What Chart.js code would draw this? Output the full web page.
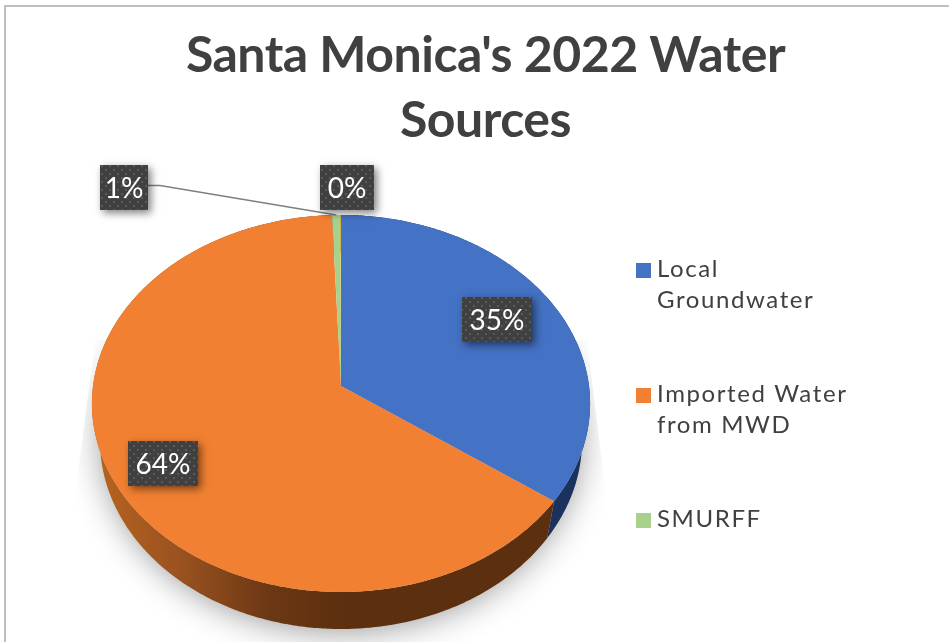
<!DOCTYPE html>
<html><head><meta charset="utf-8">
<style>
html,body{margin:0;padding:0;background:#fff;overflow:hidden;width:949px;height:642px}
#frame{position:absolute;left:4px;top:5px;width:960px;height:660px;border:2px solid #bfbfbf;box-sizing:border-box}
#wrap{position:absolute;left:0;top:0;width:949px;height:642px}
canvas{display:block}
</style>
<script src="https://cdn.jsdelivr.net/npm/chart.js@4"></script>
</head><body>
<div id="frame"></div>
<div id="wrap"><canvas id="c" width="949" height="642"></canvas></div>
<script>
const categories = ["Local Groundwater", "Imported Water from MWD", "SMURFF", ""];
const legendLines = [["Local", "Groundwater"], ["Imported Water", "from MWD"], ["SMURFF"]];
const values = [34.9, 64.47, 0.6, 0.03];
const sliceColors = ["#4472C4", "#F28032", "#A9D18E", "#FFC000"];
const titleLines = ["Santa Monica's 2022 Water", "Sources"];

// Projection of the unit pie onto the page (perspective disc)
const VIEW = {cx: 341, cy: 386, a: 248, b: 186.9, k: -0.0928, depth: 37, a2: 240};
function project(theta, bottom) {
  const u = Math.sin(theta), v = -Math.cos(theta), w = 1 + VIEW.k * v;
  const a = bottom ? VIEW.a2 : VIEW.a;
  return [VIEW.cx + a * u / w, VIEW.cy + (bottom ? VIEW.depth : 0) + VIEW.b * v / w];
}
function arcPoints(t0, t1, bottom) {
  const n = Math.max(2, Math.ceil(Math.abs(t1 - t0) / 0.01));
  const pts = [];
  for (let i = 0; i <= n; i++) pts.push(project(t0 + (t1 - t0) * i / n, bottom));
  return pts;
}
function trace(ctx, pts) { pts.forEach((p, i) => i ? ctx.lineTo(p[0], p[1]) : ctx.moveTo(p[0], p[1])); }

const LABEL = {
  boxes: [[462, 297, 70, 45], [128, 441, 70, 45], [100, 165, 48, 45], [320, 165, 54, 45]],
  font: "400 28px Lato", fill: "#404040", dot: "#5a5a5a"
};
const LEGEND = {x: 636, size: 15, textX: 657, rows: [270.5, 395.5, 520.5], line: 31, font: "400 24px Lato", color: "#404040", spacing: "1.6px"};

function dotPattern(ctx) {
  const p = document.createElement("canvas"); p.width = 8; p.height = 8;
  const g = p.getContext("2d");
  g.fillStyle = LABEL.fill; g.fillRect(0, 0, 8, 8);
  g.fillStyle = LABEL.dot; g.fillRect(1, 1, 2, 2); g.fillRect(5, 5, 2, 2);
  return ctx.createPattern(p, "repeat");
}

const pie3d = {
  id: "pie3d",
  beforeDraw(chart) { chart.ctx.letterSpacing = "-0.5px"; },
  beforeDatasetDraw(chart) {
    const ctx = chart.ctx, arcs = chart.getDatasetMeta(0).data;
    ctx.save();
    ctx.letterSpacing = "0px";
    // ground shadow, clipped to the wedge behind the pie
    ctx.save();
    ctx.beginPath();
    ctx.moveTo(95, 340); ctx.lineTo(587, 340); ctx.lineTo(609, 520); ctx.lineTo(640, 660); ctx.lineTo(40, 660); ctx.lineTo(72, 520);
    ctx.closePath(); ctx.clip();
    ctx.shadowColor = "rgba(0,0,0,0.42)"; ctx.shadowBlur = 34; ctx.shadowOffsetX = 0; ctx.shadowOffsetY = 10;
    ctx.fillStyle = "#cfcfcf";
    ctx.beginPath(); ctx.ellipse(VIEW.cx, 425, 240, 196, 0, 0, Math.PI * 2); ctx.fill();
    ctx.restore();
    // walls
    const wallOrange = ctx.createLinearGradient(91, 0, 345, 0);
    wallOrange.addColorStop(0, "#b9641f"); wallOrange.addColorStop(0.35, "#9a5220");
    wallOrange.addColorStop(0.7, "#6c3814"); wallOrange.addColorStop(1, "#5c2f0f");
    const walls = ["#1b325f", wallOrange, "#5f7a4c", "#8a6800"];
    arcs.forEach((el, i) => {
      const t0 = el.startAngle + Math.PI / 2, t1 = el.endAngle + Math.PI / 2;
      ctx.beginPath();
      trace(ctx, arcPoints(t0, t1, false).concat(arcPoints(t1, t0, true)));
      ctx.closePath(); ctx.fillStyle = walls[i]; ctx.fill();
    });
    // top face
    arcs.forEach((el, i) => {
      const t0 = el.startAngle + Math.PI / 2, t1 = el.endAngle + Math.PI / 2;
      ctx.beginPath(); ctx.moveTo(VIEW.cx, VIEW.cy);
      arcPoints(t0, t1, false).forEach(p => ctx.lineTo(p[0], p[1]));
      ctx.closePath(); ctx.fillStyle = sliceColors[i]; ctx.fill();
    });
    ctx.restore();
    return false;
  },
  afterDatasetsDraw(chart) {
    const ctx = chart.ctx, arcs = chart.getDatasetMeta(0).data;
    const total = values.reduce((s, v) => s + v, 0);
    ctx.save();
    ctx.letterSpacing = "0px";
    // leader line of the SMURFF label
    const green = arcs[2];
    const tip = project((green.startAngle + green.endAngle) / 2 + Math.PI / 2, false);
    ctx.strokeStyle = "#7f7f7f"; ctx.lineWidth = 1.5;
    ctx.beginPath(); ctx.moveTo(148, 185.5); ctx.lineTo(160, 185.5); ctx.lineTo(tip[0], tip[1]); ctx.stroke();
    const pat = dotPattern(ctx);
    LABEL.boxes.forEach((b, i) => {
      ctx.save();
      ctx.shadowColor = "rgba(0,0,0,0.5)"; ctx.shadowBlur = 8; ctx.shadowOffsetX = 3; ctx.shadowOffsetY = 3;
      ctx.fillStyle = LABEL.fill; ctx.fillRect(b[0], b[1], b[2], b[3]);
      ctx.restore();
      ctx.fillStyle = pat; ctx.fillRect(b[0], b[1], b[2], b[3]);
      ctx.fillStyle = "#ffffff"; ctx.font = LABEL.font;
      ctx.textAlign = "center"; ctx.textBaseline = "middle";
      ctx.fillText(Math.round(values[i] / total * 100) + "%", b[0] + b[2] / 2, b[1] + b[3] / 2 + 1);
    });
    // legend
    ctx.letterSpacing = LEGEND.spacing;
    ctx.font = LEGEND.font; ctx.textAlign = "left"; ctx.textBaseline = "middle";
    legendLines.forEach((lines, i) => {
      ctx.fillStyle = sliceColors[i];
      ctx.fillRect(LEGEND.x, LEGEND.rows[i] - LEGEND.size / 2, LEGEND.size, LEGEND.size);
      ctx.fillStyle = LEGEND.color;
      lines.forEach((t, j) => ctx.fillText(t, LEGEND.textX, LEGEND.rows[i] - 1 + j * LEGEND.line));
    });
    ctx.restore();
    ctx.letterSpacing = "0px";
  }
};

new Chart(document.getElementById("c"), {
  type: "pie",
  plugins: [pie3d],
  data: {labels: categories, datasets: [{data: values, backgroundColor: sliceColors, borderWidth: 0}]},
  options: {
    responsive: false, animation: false, devicePixelRatio: 1,
    layout: {padding: {left: 22, right: 0, top: 0, bottom: 20}},
    plugins: {
      legend: {display: false}, tooltip: {enabled: false},
      title: {display: true, text: titleLines, color: "#404040",
        font: {family: "Lato", size: 50, weight: "700", lineHeight: 1.29}, padding: {top: 24, bottom: 20}}
    }
  }
});
</script>
</body></html>
